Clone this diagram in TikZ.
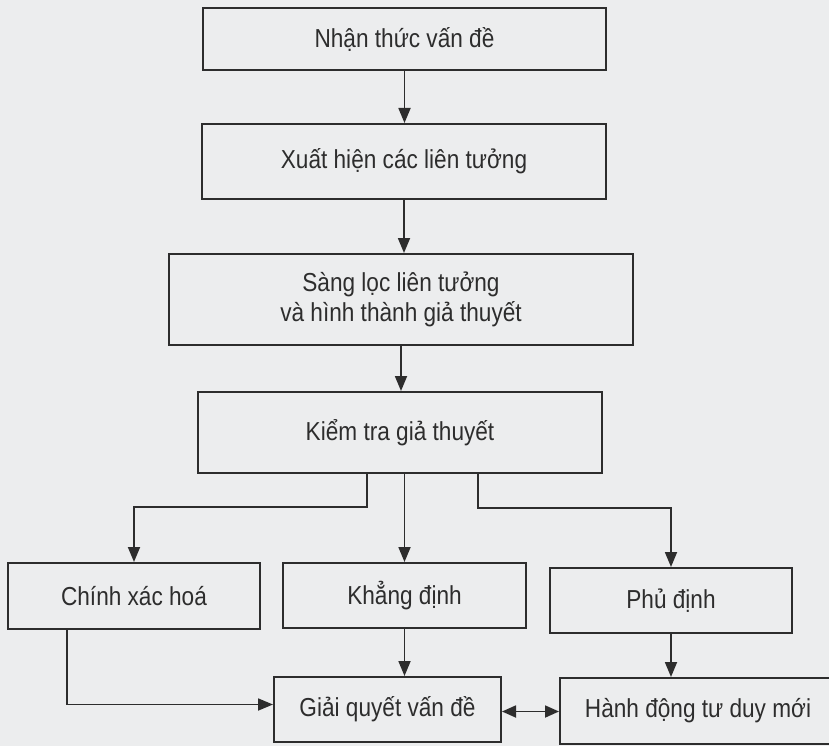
\documentclass[tikz,border=0pt]{standalone}
\usepackage{fontspec}
\setmainfont{Liberation Sans}[FakeStretch=0.87]
\usetikzlibrary{arrows.meta,calc}
\definecolor{bgcol}{RGB}{236,237,238}
\definecolor{inkcol}{RGB}{45,45,45}
\begin{document}
\begin{tikzpicture}[x=1pt,y=-1pt,
  box/.style={draw=inkcol,line width=2pt,rectangle,inner sep=0pt,align=center,
    text=inkcol,font=\fontsize{26}{30}\selectfont},
  arr/.style={draw=inkcol,line width=1.8pt,-{Triangle[length=15pt,width=12pt]}},
  dbl/.style={draw=inkcol,line width=1.8pt,{Triangle[length=14pt,width=12pt]}-{Triangle[length=14pt,width=12pt]}}]
\fill[bgcol] (0,0) rectangle (829,746);
\useasboundingbox (0,0) rectangle (829,746);
\node[box,minimum width=403pt,minimum height=62pt] (b1) at (404.5,39) {Nhận thức vấn đề};
\node[box,minimum width=404pt,minimum height=75pt] (b2) at (404,161.5) {Xuất hiện các liên tưởng};
\node[box,minimum width=464pt,minimum height=91pt] (b3) at (401,299.5) {Sàng lọc liên tưởng\\và hình thành giả thuyết};
\node[box,minimum width=404pt,minimum height=81pt] (b4) at (400,432.5) {Kiểm tra giả thuyết};
\node[box,minimum width=252pt,minimum height=66pt] (c) at (134,596) {Chính xác hoá};
\node[box,minimum width=243pt,minimum height=65pt] (k) at (404.5,595.5) {Khẳng định};
\node[box,minimum width=242pt,minimum height=65pt] (p) at (671,600.5) {Phủ định};
\node[box,minimum width=227pt,minimum height=65pt] (g) at (387.5,709.5) {Giải quyết vấn đề};
\node[box,minimum width=276pt,minimum height=66pt] (h) at (698,711) {Hành động tư duy mới};
\draw[arr] (b1.south) -- (b1.south |- b2.north);
\draw[arr] (b2.south) -- (b2.south |- b3.north);
\draw[arr] (b3.south) -- (b3.south |- b4.north);
\draw[arr] (k.north |- b4.south) -- (k.north);
\draw[arr] ([xshift=-33pt]b4.south) -- ++(0,33) -| (c.north);
\draw[arr] ([xshift=78pt]b4.south) -- ++(0,34) -| (p.north);
\draw[arr] ([xshift=-67pt]c.south) |- ([yshift=5pt]g.west);
\draw[arr] (k.south) -- (k.south |- g.north);
\draw[arr] (p.south) -- (p.south |- h.north);
\draw[dbl] ([yshift=-2pt]g.east) -- ([yshift=-2pt]g.east -| h.west);
\end{tikzpicture}
\end{document}
